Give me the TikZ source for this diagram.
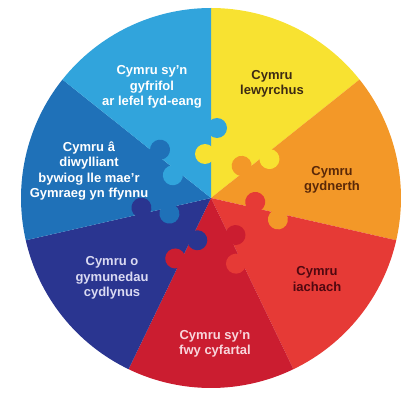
\documentclass[tikz,border=0pt]{standalone}
\usepackage{fontspec}
\setmainfont{Liberation Sans}

\definecolor{cyYellow}{RGB}{248,226,49}
\definecolor{cyOrange}{RGB}{243,152,40}
\definecolor{cyRed}{RGB}{230,58,54}
\definecolor{cyDarkRed}{RGB}{203,29,48}
\definecolor{cyNavy}{RGB}{42,53,144}
\definecolor{cyMidBlue}{RGB}{31,113,184}
\definecolor{cyLightBlue}{RGB}{49,164,220}

\begin{document}
\begin{tikzpicture}[x=1pt,y=1pt, goal/.style={align=center, inner sep=0pt, font=\fontsize{13}{15.5}\selectfont\bfseries}]
\useasboundingbox (-211,-198) rectangle (200,198);
% seven slices of the wheel
\foreach \c [count=\k from 0] in {cyYellow,cyOrange,cyRed,cyDarkRed,cyNavy,cyMidBlue,cyLightBlue}
  \fill[\c] (0,0) -- ({90-51.4286*\k}:190) arc[start angle={90-51.4286*\k}, delta angle=-51.4286, radius=190] -- cycle;
% puzzle knobs on each edge
\foreach \cw/\ccw [count=\k from 0] in {cyYellow/cyLightBlue, cyOrange/cyYellow, cyRed/cyOrange, cyDarkRed/cyRed, cyNavy/cyDarkRed, cyMidBlue/cyNavy, cyLightBlue/cyMidBlue}{
  \begin{scope}[rotate={90-51.4286*\k}]
    \fill[\cw] (44,6) circle (10);
    \fill[\ccw] (70,-6) circle (10);
  \end{scope}
}
\node (lewyrchus) [goal, text={rgb,255:red,60;green,42;blue,20}] at (61,114) {Cymru\\lewyrchus};
\node (gydnerth) [goal, text={rgb,255:red,90;green,40;blue,8}] at (121,18) {Cymru\\gydnerth};
\node (iachach) [goal, text={rgb,255:red,80;green,8;blue,16}] at (106,-81) {Cymru\\iachach};
\node (cyfartal) [goal, text={rgb,255:red,248;green,214;blue,220}] at (4,-146) {Cymru sy’n\\fwy cyfartal};
\node (cydlynus) [goal, text={rgb,255:red,218;green,218;blue,242}] at (-99,-80) {Cymru o\\gymunedau\\cydlynus};
\node (diwylliant) [goal, text=white] at (-122,27) {Cymru â\\diwylliant\\bywiog lle mae’r\\Gymraeg yn ffynnu};
\node (gyfrifol) [goal, text=white] at (-59,111) {Cymru sy’n\\gyfrifol\\ar lefel fyd-eang};
\end{tikzpicture}
\end{document}
